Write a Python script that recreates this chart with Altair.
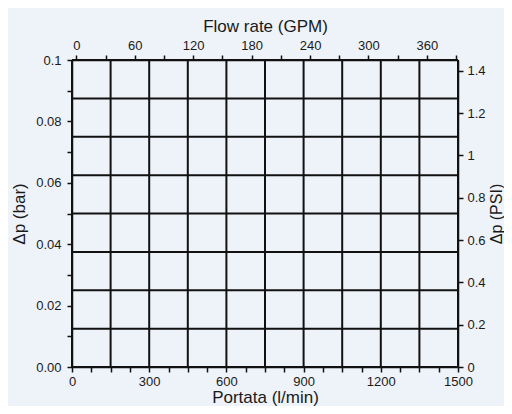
import altair as alt
import pandas as pd

# ---- data ----
flow_grid_lpm = [0, 150, 300, 450, 600, 750, 900, 1050, 1200, 1350, 1500]
dp_grid_bar = [0, 0.0125, 0.025, 0.0375, 0.05, 0.0625, 0.075, 0.0875, 0.1]

flow_ticks_lpm = [0, 75, 150, 225, 300, 375, 450, 525, 600, 675, 750, 825, 900,
                  975, 1050, 1125, 1200, 1275, 1350, 1425, 1500]
flow_label_lpm = [0, 300, 600, 900, 1200, 1500]

dp_ticks_bar = [0, 0.01, 0.02, 0.03, 0.04, 0.05, 0.06, 0.07, 0.08, 0.09, 0.1]
dp_label_bar = [0, 0.02, 0.04, 0.06, 0.08, 0.1]
dp_label_text = ["0.00", "0.02", "0.04", "0.06", "0.08", "0.1"]

gpm_ticks = [0, 30, 60, 90, 120, 150, 180, 210, 240, 270, 300, 330, 360, 390]
gpm_label = [0, 60, 120, 180, 240, 300, 360]

psi_ticks = [0, 0.2, 0.4, 0.6, 0.8, 1, 1.2, 1.4]

lpm_domain = [0, 1500]
bar_domain = [0, 0.1]
gpm_domain = [-4.5, 392]
psi_domain = [0, 1.4504]

W, H = 386, 307
FONT = "Liberation Sans"
INK = "#111111"
TXT = "#1a1a1a"
BG = "#eef2f9"


def show_only(values):
    arr = ",".join(str(v) for v in values)
    return f"indexof([{arr}], datum.value) >= 0 ? datum.label : ''"


def map_labels(values, texts):
    expr = "''"
    for v, t in reversed(list(zip(values, texts))):
        expr = f"datum.value == {v} ? '{t}' : ({expr})"
    return expr


common = dict(
    grid=False, domainColor=INK, domainWidth=1.5, tickColor=INK, tickWidth=1.5,
    tickSize=5, labelFont=FONT, labelFontSize=13, labelColor=TXT,
    titleFont=FONT, titleFontSize=17, titleFontWeight="normal", titleColor=TXT,
    labelFlush=False, labelOverlap=False,
)

vert = alt.Chart(pd.DataFrame({"lpm": flow_grid_lpm})).mark_rule(
    color=INK, strokeWidth=2
).encode(
    x=alt.X("lpm:Q", scale=alt.Scale(domain=lpm_domain, nice=False, zero=False),
            axis=alt.Axis(orient="bottom", values=flow_ticks_lpm, format="d",
                          labelExpr=show_only(flow_label_lpm),
                          title="Portata (l/min)", labelPadding=3,
                          titleX=W / 2, titleY=30, titleAlign="center",
                          titleBaseline="middle", titleAngle=0,
                          **common))
)

horiz = alt.Chart(pd.DataFrame({"bar": dp_grid_bar})).mark_rule(
    color=INK, strokeWidth=2
).encode(
    y=alt.Y("bar:Q", scale=alt.Scale(domain=bar_domain, nice=False, zero=False),
            axis=alt.Axis(orient="left", values=dp_ticks_bar,
                          labelExpr=map_labels(dp_label_bar, dp_label_text),
                          title="Δp (bar)", labelPadding=6, titlePadding=7,
                          **common))
)

top = alt.Chart(pd.DataFrame({"gpm": gpm_ticks})).mark_point(opacity=0).encode(
    x=alt.X("gpm:Q", scale=alt.Scale(domain=gpm_domain, nice=False, zero=False),
            axis=alt.Axis(orient="top", values=gpm_ticks, format="d",
                          labelExpr=show_only(gpm_label),
                          title="Flow rate (GPM)", labelPadding=3, titlePadding=4,
                          **common))
)

right = alt.Chart(pd.DataFrame({"psi": psi_ticks})).mark_point(opacity=0).encode(
    y=alt.Y("psi:Q", scale=alt.Scale(domain=psi_domain, nice=False, zero=False),
            axis=alt.Axis(orient="right", values=psi_ticks, format="~g",
                          title="Δp (PSI)", titleAngle=270, titleX=38,
                          titleY=H / 2, titleAlign="center",
                          titleBaseline="middle", labelPadding=4,
                          **{**common, "titleFontSize": 16}))
)

chart = alt.layer(horiz, vert, top, right).resolve_scale(
    x="independent", y="independent"
).properties(
    width=W, height=H,
    autosize=alt.AutoSizeParams(type="none"),
    padding={"left": 64, "top": 52, "right": 46, "bottom": 39},
    background=BG,
).configure_view(stroke=None)

chart.save("out.html", embed_options={"renderer": "svg", "actions": False})
